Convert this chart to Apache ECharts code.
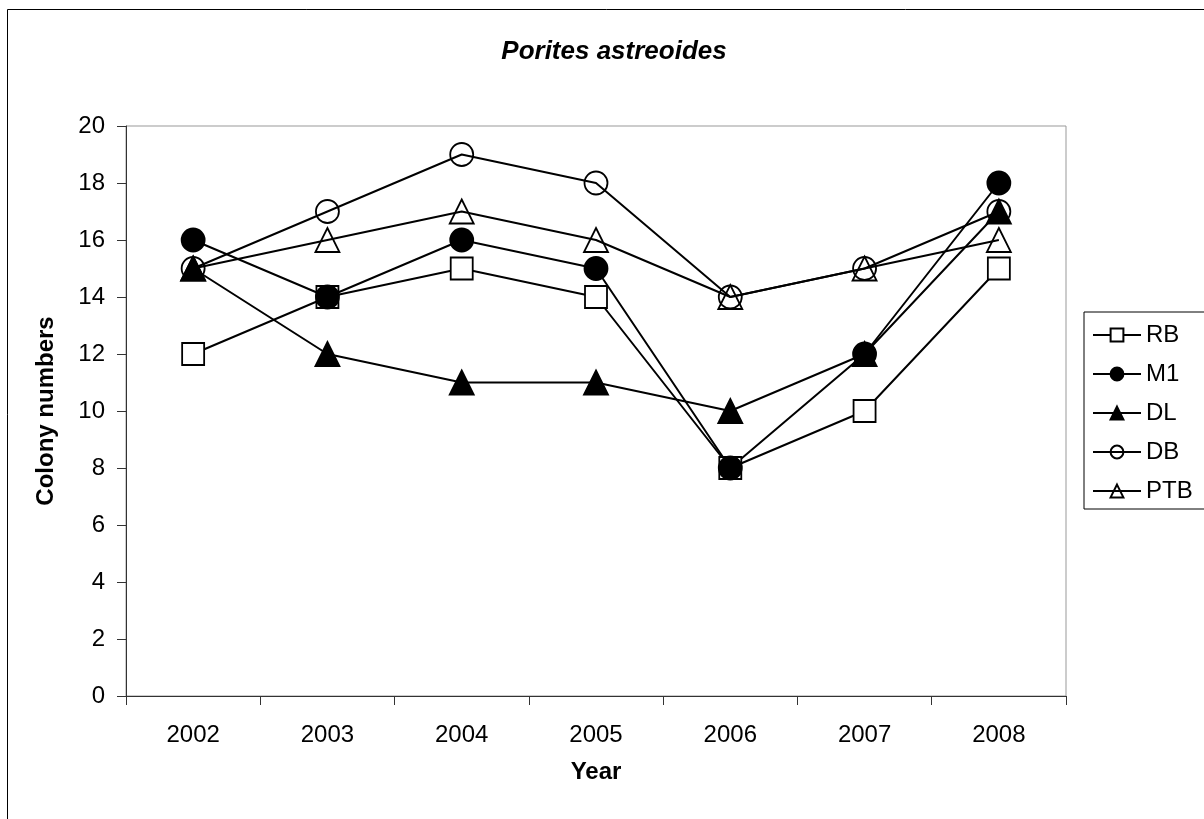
<!DOCTYPE html>
<html>
<head>
<meta charset="utf-8">
<script src="https://cdn.jsdelivr.net/npm/echarts@6/dist/echarts.min.js"></script>
<style>
html,body{margin:0;padding:0;background:#fff;}
#chart{width:1204px;height:819px;}
</style>
</head>
<body>
<div id="chart"></div>
<script>
const years = ['2002','2003','2004','2005','2006','2007','2008'];
const RB  = [12, 14, 15, 14, 8, 10, 15];
const M1  = [16, 14, 16, 15, 8, 12, 18];
const DL  = [15, 12, 11, 11, 10, 12, 17];
const DB  = [15, 17, 19, 18, 14, 15, 17];
const PTB = [15, 16, 17, 16, 14, 15, 16];

const FONT = '"Liberation Sans", Arial, sans-serif';

function mk(name, data, symbol, fill, size) {
  return {
    name: name,
    type: 'line',
    data: data,
    symbol: symbol,
    symbolSize: size,
    showAllSymbol: true,
    lineStyle: { color: '#000', width: 2 },
    itemStyle: { color: fill, borderColor: '#000', borderWidth: 1.8 },
    emphasis: { disabled: true },
    animation: false
  };
}

const chart = echarts.init(document.getElementById('chart'), null, { renderer: 'canvas' });
chart.setOption({
  animation: false,
  backgroundColor: '#fff',
  title: {
    text: 'Porites astreoides',
    left: 609, top: 34, textAlign: 'center',
    textStyle: { fontFamily: FONT, fontSize: 26, fontWeight: 'bold', fontStyle: 'italic', color: '#000' }
  },
  graphic: [{
    type: 'rect',
    shape: { x: 7.5, y: 9.5, width: 1400, height: 1000 },
    style: { fill: 'none', stroke: '#000', lineWidth: 1 },
    silent: true, z: -10
  }],
  legend: {
    orient: 'vertical',
    left: 1084, top: 312,
    itemWidth: 48, itemHeight: 16, itemGap: 15,
    padding: [11, 30, 6, 8],
    borderColor: '#000', borderWidth: 1,
    backgroundColor: '#fff',
    textStyle: { fontFamily: FONT, fontSize: 24, color: '#000' },
    data: ['RB','M1','DL','DB','PTB']
  },
  grid: {
    left: 126, top: 126, right: 138, bottom: 123,
    show: true, borderColor: '#999', borderWidth: 1, backgroundColor: 'transparent'
  },
  xAxis: {
    type: 'category',
    data: years,
    boundaryGap: true,
    name: 'Year', nameLocation: 'middle', nameGap: 64,
    nameTextStyle: { fontFamily: FONT, fontSize: 24, fontWeight: 'bold', color: '#000' },
    axisLine: { lineStyle: { color: '#333', width: 1 } },
    axisTick: { show: true, length: 9, inside: false, lineStyle: { color: '#333' } },
    axisLabel: { fontFamily: FONT, fontSize: 24, color: '#000', margin: 27 },
    splitLine: { show: false }
  },
  yAxis: {
    type: 'value',
    min: 0, max: 20, interval: 2,
    name: 'Colony numbers', nameLocation: 'middle', nameGap: 68, nameRotate: 90,
    nameTextStyle: { fontFamily: FONT, fontSize: 24, fontWeight: 'bold', color: '#000' },
    axisLine: { show: true, lineStyle: { color: '#333', width: 1 } },
    axisTick: { show: true, length: 9, inside: false, lineStyle: { color: '#333' } },
    axisLabel: { fontFamily: FONT, fontSize: 24, color: '#000', margin: 21 },
    splitLine: { show: false }
  },
  series: [
    mk('RB', RB, 'rect', '#fff', 22),
    mk('M1', M1, 'circle', '#000', 23),
    mk('DL', DL, 'triangle', '#000', 24),
    mk('DB', DB, 'circle', 'rgba(0,0,0,0)', 23),
    mk('PTB', PTB, 'triangle', 'rgba(0,0,0,0)', 24)
  ]
});
</script>
</body>
</html>
